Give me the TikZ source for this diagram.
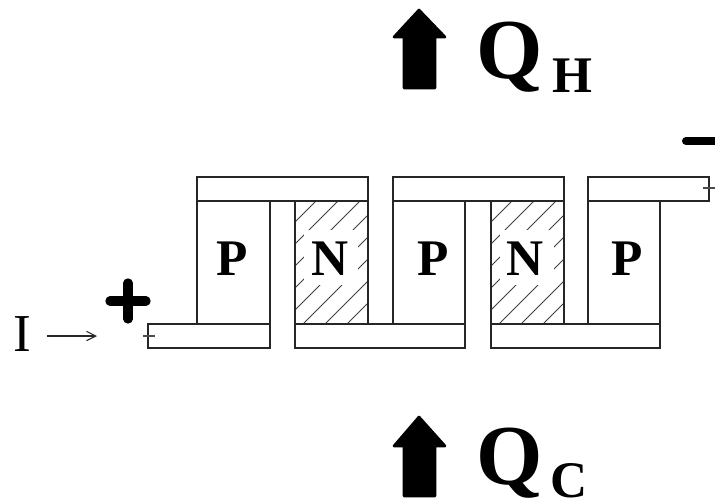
\documentclass[tikz,border=0pt]{standalone}
\usepackage{fontspec}
\usetikzlibrary{arrows.meta}
\setmainfont{Liberation Serif}
\tikzset{
    leg/.style={draw=black!85, line width=0.95pt},
    hatch/.style={draw=black!75, line width=0.7pt},
    tick/.style={draw=black!70, line width=1pt},
    block/.style={fill=black, draw=black, line width=2pt, line join=round},
    bigtext/.style={inner sep=0pt, anchor=base west, font=\bfseries\fontsize{38.5pt}{38.5pt}\selectfont},
    heat/.style={inner sep=0pt, anchor=base west, font=\bfseries\fontsize{64pt}{64pt}\selectfont},
}
\begin{document}
\begin{tikzpicture}[x=0.75pt, y=-0.75pt]
    \useasboundingbox (0, 0) rectangle (715, 504);

    % hatching of the two N legs
    \foreach \shift in {0, 196} {
        \begin{scope}[xshift=\shift*0.75pt]
            \begin{scope}
                \clip (295, 201) rectangle (368, 324);
                \foreach \s in {517, 539, 561, 583, 605, 627, 649, 671} {
                    \draw[hatch] (\s-324, 324) -- (\s-201, 201);
                }
            \end{scope}
            \fill[white] (304, 230) rectangle (358, 285);
        \end{scope}
    }

    % legs
    \foreach \x/\w in {197/73, 295/73, 393/72, 491/73, 588/72} {
        \draw[leg] (\x, 201) rectangle (\x+\w, 324);
    }

    % top bars
    \draw[leg] (197, 177) rectangle (368, 201);
    \draw[leg] (393, 177) rectangle (564, 201);
    \draw[leg] (588, 177) rectangle (709, 201);

    % bottom bars
    \draw[leg] (148, 324) rectangle (270, 348);
    \draw[leg] (295, 324) rectangle (465, 348);
    \draw[leg] (491, 324) rectangle (660, 348);

    % small marks at the bar ends
    \draw[tick] (143, 336) -- (155, 336);
    \draw[tick] (703, 188) -- (715, 188);

    % letters
    \node[bigtext] (p1) at (216, 275) {P};
    \node[bigtext] (n1) at (311, 275) {N};
    \node[bigtext] (p2) at (417, 275) {P};
    \node[bigtext] (n2) at (506, 275) {N};
    \node[bigtext] (p3) at (611, 275) {P};

    % current
    \node[inner sep=0pt, anchor=base west, font=\fontsize{40pt}{40pt}\selectfont] (cur) at (13, 351) {I};
    \coordinate (curend) at (97, 336);
    \draw[-{Straight Barb[length=7pt, width=7pt]}, draw=black!85, line width=0.8pt] (47, 336) -- (curend);

    % plus and minus
    \draw[line width=7pt, line cap=round] (110, 301) -- (146, 301);
    \draw[line width=7pt, line cap=round] (128, 283) -- (128, 319);
    \draw[line width=6pt, line cap=round] (686, 141) -- (720, 141);

    % heat arrows
    \draw[block] (419, 10) -- (394, 37) -- (404, 37) -- (404, 88) -- (435, 88) -- (435, 37) -- (445, 37) -- cycle;
    \draw[block] (419, 417) -- (394, 446) -- (404, 446) -- (404, 496) -- (435, 496) -- (435, 446) -- (445, 446) -- cycle;

    % heat labels
    \node[heat] (qh) at (476, 78) {Q};
    \node[bigtext] (qhsub) at (552, 92) {H};
    \node[heat] (qc) at (476, 484) {Q};
    \node[bigtext] (qcsub) at (550, 497) {C};
\end{tikzpicture}
\end{document}
